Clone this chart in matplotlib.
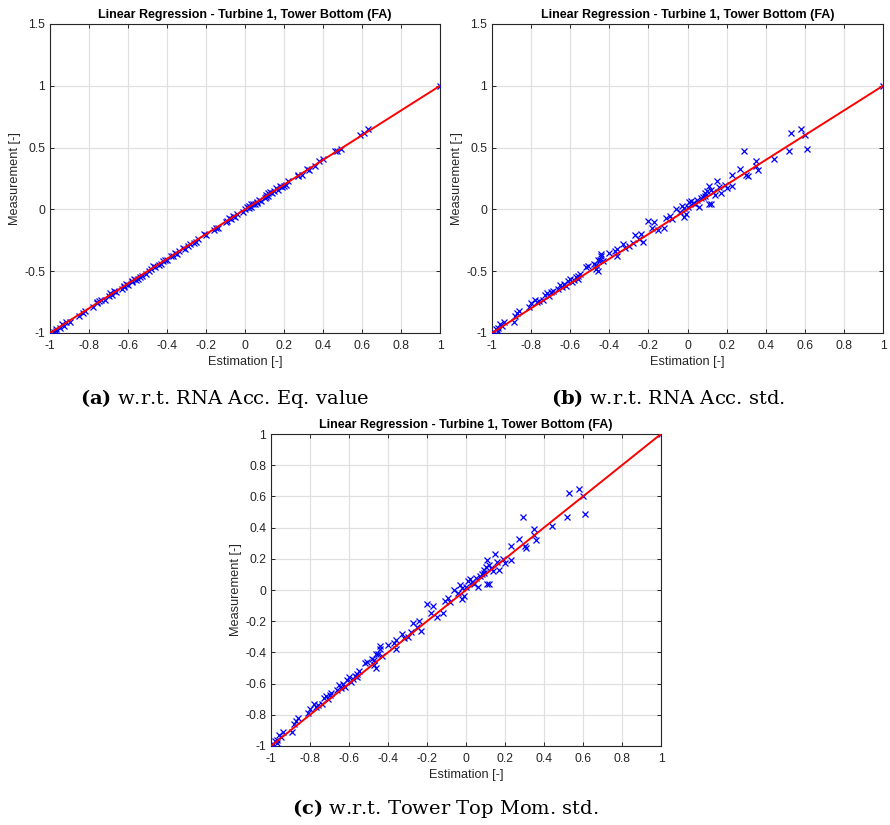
import numpy as np
import matplotlib
matplotlib.use('Agg')
import matplotlib.pyplot as plt

# Measured values (normalised) and the estimations from the three models
measurement = [-1.00, -0.99, -0.97, -0.96, -0.94, -0.93, -0.91, -0.91, -0.84, -0.82,
               -0.79, -0.76, -0.74, -0.73, -0.73, -0.70, -0.69, -0.67, -0.66, -0.64,
               -0.62, -0.61, -0.60, -0.59, -0.58, -0.57, -0.56, -0.56, -0.54, -0.52,
               -0.50, -0.48, -0.47, -0.46, -0.44, -0.42, -0.41, -0.41, -0.38, -0.38,
               -0.36, -0.34, -0.32, -0.31, -0.30, -0.28, -0.27, -0.26, -0.24, -0.21,
               -0.20, -0.17, -0.15, -0.15, -0.10, -0.09, -0.08, -0.07, -0.06, -0.04,
               -0.02, 0.00, 0.02, 0.02, 0.03, 0.04, 0.04, 0.04, 0.06, 0.07,
               0.08, 0.09, 0.10, 0.12, 0.13, 0.13, 0.15, 0.16, 0.17, 0.19,
               0.19, 0.20, 0.23, 0.27, 0.28, 0.28, 0.32, 0.33, 0.35, 0.39,
               0.41, 0.47, 0.47, 0.49, 0.60, 0.62, 0.65, 1.00,
               -0.98, -0.86, -0.75, -0.68, -0.63, -0.55, -0.45, -0.35, -0.05, 0.01,
               0.05, 0.11, 0.14, 0.18]

est_rna_eq = [-1.00, -0.98, -0.97, -0.95, -0.93, -0.94, -0.92, -0.90, -0.83, -0.82,
              -0.78, -0.76, -0.75, -0.72, -0.74, -0.70, -0.68, -0.66, -0.67, -0.63,
              -0.62, -0.60, -0.61, -0.58, -0.58, -0.56, -0.57, -0.55, -0.53, -0.51,
              -0.49, -0.48, -0.46, -0.47, -0.43, -0.42, -0.40, -0.41, -0.37, -0.38,
              -0.35, -0.34, -0.31, -0.32, -0.29, -0.28, -0.26, -0.25, -0.24, -0.20,
              -0.21, -0.16, -0.15, -0.14, -0.10, -0.09, -0.07, -0.08, -0.05, -0.04,
              -0.01, 0.00, 0.01, 0.03, 0.02, 0.05, 0.04, 0.03, 0.06, 0.08,
              0.07, 0.10, 0.11, 0.11, 0.14, 0.12, 0.15, 0.17, 0.16, 0.20,
              0.18, 0.21, 0.22, 0.27, 0.29, 0.27, 0.33, 0.32, 0.36, 0.38,
              0.40, 0.46, 0.47, 0.49, 0.59, 0.61, 0.63, 1.00,
              -0.97, -0.85, -0.76, -0.69, -0.62, -0.54, -0.44, -0.36, -0.06, 0.02,
              0.06, 0.12, 0.13, 0.19]

est_rna_std = [-1.00, -0.99, -0.98, -0.97, -0.95, -0.96, -0.94, -0.89, -0.87, -0.86,
               -0.81, -0.80, -0.76, -0.78, -0.74, -0.71, -0.73, -0.70, -0.69, -0.66,
               -0.62, -0.65, -0.63, -0.59, -0.61, -0.58, -0.60, -0.56, -0.56, -0.55,
               -0.46, -0.47, -0.52, -0.51, -0.48, -0.43, -0.45, -0.46, -0.44, -0.36,
               -0.44, -0.37, -0.36, -0.32, -0.30, -0.33, -0.28, -0.23, -0.25, -0.27,
               -0.24, -0.15, -0.18, -0.12, -0.17, -0.20, -0.08, -0.11, -0.02, -0.01,
               -0.04, -0.06, 0.00, 0.06, -0.03, 0.04, 0.11, 0.12, 0.01, 0.02,
               0.05, 0.07, 0.08, 0.14, 0.09, 0.17, 0.10, 0.12, 0.20, 0.11,
               0.23, 0.19, 0.15, 0.31, 0.23, 0.30, 0.36, 0.27, 0.35, 0.35,
               0.44, 0.29, 0.52, 0.61, 0.60, 0.53, 0.58, 1.00,
               -0.97, -0.88, -0.77, -0.72, -0.64, -0.57, -0.47, -0.40, -0.09, -0.02,
               0.03, 0.09, 0.13, 0.16]

# tower top moment std model gives the same estimation set
est_ttm_std = est_rna_std

fit_x = [-1.0, 1.0]
fit_y = [-1.0, 1.0]

captions = [r'$\mathbf{(a)}$ w.r.t. RNA Acc. Eq. value',
            r'$\mathbf{(b)}$ w.r.t. RNA Acc. std.',
            r'$\mathbf{(c)}$ w.r.t. Tower Top Mom. std.']
title = 'Linear Regression - Turbine 1, Tower Bottom (FA)'

plt.rcParams['font.family'] = ['Liberation Sans', 'DejaVu Sans']
plt.rcParams['mathtext.fontset'] = 'dejavuserif'

fig = plt.figure(figsize=(8.9, 8.25), dpi=100)

W, H = 890.0, 825.0
boxes = [(50, 24, 390, 309), (492, 24, 391, 309), (271, 434, 390, 312)]
est_sets = [est_rna_eq, est_rna_std, est_ttm_std]
ylims = [(-1, 1.5), (-1, 1.5), (-1, 1)]
yticks = [np.arange(-1, 1.51, 0.5), np.arange(-1, 1.51, 0.5), np.arange(-1, 1.01, 0.2)]


def fmt(v):
    s = '%g' % round(v, 2)
    return '0' if s == '-0' else s


for i in range(3):
    l, t, w, h = boxes[i]
    ax = fig.add_axes([l / W, 1 - (t + h) / H, w / W, h / H])
    ax.plot(est_sets[i], measurement, 'x', color='#0000ff', ms=4.3, mew=0.9, zorder=3)
    ax.plot(fit_x, fit_y, '-', color='#ff0000', lw=1.4, zorder=4)
    ax.set_xlim(-1, 1)
    ax.set_ylim(*ylims[i])
    xt = np.arange(-1, 1.01, 0.2)
    ax.set_xticks(xt)
    ax.set_xticklabels([fmt(v) for v in xt])
    ax.set_yticks(yticks[i])
    ax.set_yticklabels([fmt(v) for v in yticks[i]])
    ax.grid(True, color='#e0e0e0', lw=0.9)
    ax.set_axisbelow(True)
    ax.tick_params(direction='in', top=True, right=True, labelsize=8.7,
                   colors='#262626', length=3, width=0.7)
    ax.tick_params(axis='x', pad=5)
    for sp in ax.spines.values():
        sp.set_color('#262626')
        sp.set_linewidth(0.8)
    ax.set_title(title, fontsize=9, fontweight='bold', pad=4)
    ax.set_xlabel('Estimation [-]', fontsize=9.2, color='#262626', labelpad=3)
    ax.set_ylabel('Measurement [-]', fontsize=9.2, color='#262626', labelpad=2)

fig.text(225 / W, 1 - 398 / H, captions[0], fontsize=14, family='DejaVu Serif',
         ha='center', va='center')
fig.text(668 / W, 1 - 398 / H, captions[1], fontsize=14, family='DejaVu Serif',
         ha='center', va='center')
fig.text(445 / W, 1 - 808 / H, captions[2], fontsize=14, family='DejaVu Serif',
         ha='center', va='center')

fig.savefig('out.png', dpi=100)
